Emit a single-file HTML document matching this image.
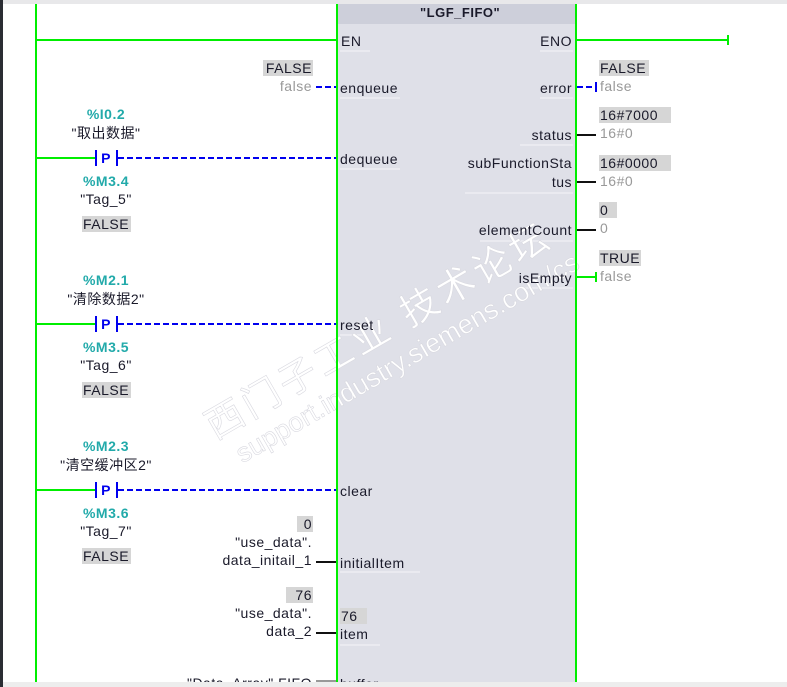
<!DOCTYPE html>
<html><head><meta charset="utf-8"><style>
html,body{margin:0;padding:0;background:#fff;}
svg{display:block;}
text{font-family:"Liberation Sans","Noto Sans CJK SC",sans-serif;font-size:14px;letter-spacing:0.5px;fill:#1a1a2a;}
.t{fill:#22aaaa;font-weight:bold;}
.g{fill:#999;}
.r{text-anchor:end;}
.m{text-anchor:middle;}
</style></head><body>
<svg width="787" height="687" viewBox="0 0 787 687" xmlns="http://www.w3.org/2000/svg">
<rect x="0" y="0" width="787" height="687" fill="#fff"/>
<rect x="0" y="0" width="787" height="4" fill="#e8e8ea"/>
<!-- block -->
<rect x="337" y="4" width="239" height="678" fill="#dfe0e8"/>
<rect x="337" y="4" width="239" height="20" fill="#cdcfda"/>
<text x="420" y="17" style="font-size:13px;font-weight:bold">"LGF_FIFO"</text>
<!-- pin underlines -->
<g stroke="#f4f4f8" stroke-width="1">
<line x1="340" y1="51" x2="370" y2="51"/><line x1="340" y1="98" x2="400" y2="98"/>
<line x1="340" y1="169" x2="400" y2="169"/><line x1="340" y1="335" x2="365" y2="335"/>
<line x1="340" y1="572" x2="420" y2="572"/><line x1="340" y1="645" x2="380" y2="645"/>
<line x1="540" y1="51" x2="573" y2="51"/><line x1="540" y1="98" x2="573" y2="98"/>
<line x1="520" y1="145" x2="573" y2="145"/><line x1="465" y1="193" x2="573" y2="193"/>
<line x1="480" y1="241" x2="573" y2="241"/><line x1="520" y1="288" x2="573" y2="288"/>
</g>
<!-- watermark -->
<g transform="translate(215,440) rotate(-30)">
<text x="0" y="0" style="font-size:38px;fill:#fff;stroke:#d9d9e0;stroke-width:0.6;letter-spacing:4px">西门子工业 技术论坛</text>
<text x="12" y="34" style="font-size:27px;fill:#fff;stroke:#d9d9e0;stroke-width:0.6;letter-spacing:0">support.industry.siemens.com/cs</text>
</g>
<!-- rails -->
<rect x="35" y="4" width="2" height="678" fill="#00ee00"/>
<rect x="336" y="4" width="2" height="678" fill="#00ee00"/>
<rect x="575" y="4" width="2" height="678" fill="#00ee00"/>
<!-- EN / ENO -->
<rect x="36" y="39" width="300" height="2" fill="#00ee00"/>
<rect x="577" y="39" width="151" height="2" fill="#00ee00"/>
<rect x="727" y="35" width="2" height="10" fill="#00ee00"/>
<text x="341" y="46">EN</text>
<text x="572" y="46" class="r">ENO</text>
<!-- enqueue -->
<rect x="263" y="60" width="50" height="16" fill="#d6d6d6"/>
<text x="312" y="73" class="r">FALSE</text>
<text x="312" y="91" class="r g">false</text>
<line x1="316" y1="87" x2="336" y2="87" stroke="#0000ee" stroke-width="2" stroke-dasharray="6,3"/>
<text x="340" y="93">enqueue</text>
<!-- contacts -->
<g>
<text x="106" y="119" class="m t">%I0.2</text>
<text x="106" y="138" class="m">"取出数据"</text>
<rect x="36" y="157" width="60" height="2" fill="#00ee00"/>
<rect x="95" y="150" width="2" height="16" fill="#0000ee"/>
<text x="106" y="163" class="m" style="fill:#0000ee;font-weight:bold">P</text>
<rect x="116" y="150" width="2" height="16" fill="#0000ee"/>
<line x1="118" y1="158" x2="336" y2="158" stroke="#0000ee" stroke-width="2" stroke-dasharray="6,3"/>
<text x="106" y="186" class="m t">%M3.4</text>
<text x="106" y="204" class="m">"Tag_5"</text>
<rect x="82" y="216" width="49" height="16" fill="#d6d6d6"/>
<text x="106" y="229" class="m">FALSE</text>
</g>
<text x="340" y="164">dequeue</text>
<g transform="translate(0,166)">
<text x="106" y="119" class="m t">%M2.1</text>
<text x="106" y="138" class="m">"清除数据2"</text>
<rect x="36" y="157" width="60" height="2" fill="#00ee00"/>
<rect x="95" y="150" width="2" height="16" fill="#0000ee"/>
<text x="106" y="163" class="m" style="fill:#0000ee;font-weight:bold">P</text>
<rect x="116" y="150" width="2" height="16" fill="#0000ee"/>
<line x1="118" y1="158" x2="336" y2="158" stroke="#0000ee" stroke-width="2" stroke-dasharray="6,3"/>
<text x="106" y="186" class="m t">%M3.5</text>
<text x="106" y="204" class="m">"Tag_6"</text>
<rect x="82" y="216" width="49" height="16" fill="#d6d6d6"/>
<text x="106" y="229" class="m">FALSE</text>
</g>
<text x="340" y="330">reset</text>
<g transform="translate(0,332)">
<text x="106" y="119" class="m t">%M2.3</text>
<text x="106" y="138" class="m">"清空缓冲区2"</text>
<rect x="36" y="157" width="60" height="2" fill="#00ee00"/>
<rect x="95" y="150" width="2" height="16" fill="#0000ee"/>
<text x="106" y="163" class="m" style="fill:#0000ee;font-weight:bold">P</text>
<rect x="116" y="150" width="2" height="16" fill="#0000ee"/>
<line x1="118" y1="158" x2="336" y2="158" stroke="#0000ee" stroke-width="2" stroke-dasharray="6,3"/>
<text x="106" y="186" class="m t">%M3.6</text>
<text x="106" y="204" class="m">"Tag_7"</text>
<rect x="82" y="216" width="49" height="16" fill="#d6d6d6"/>
<text x="106" y="229" class="m">FALSE</text>
</g>
<text x="340" y="496">clear</text>
<!-- initialItem -->
<rect x="297" y="516" width="16" height="16" fill="#d6d6d6"/>
<text x="312" y="529" class="r">0</text>
<text x="312" y="547" class="r">"use_data".</text>
<text x="312" y="565" class="r">data_initail_1</text>
<rect x="316" y="561" width="20" height="2" fill="#111"/>
<text x="340" y="568">initialItem</text>
<!-- item -->
<rect x="286" y="587" width="27" height="16" fill="#d6d6d6"/>
<text x="312" y="600" class="r">76</text>
<text x="312" y="618" class="r">"use_data".</text>
<text x="312" y="636" class="r">data_2</text>
<rect x="316" y="632" width="20" height="2" fill="#111"/>
<rect x="340" y="608" width="27" height="16" fill="#d6d6d6"/>
<text x="341" y="621">76</text>
<text x="340" y="639">item</text>
<!-- buffer -->
<text x="312" y="688" class="r">"Data_Array".FIFO</text>
<rect x="316" y="680" width="20" height="2" fill="#999"/>
<text x="340" y="689">buffer</text>
<!-- outputs -->
<text x="572" y="93" class="r">error</text>
<line x1="577" y1="87" x2="596" y2="87" stroke="#0000ee" stroke-width="2" stroke-dasharray="6,3"/>
<rect x="595" y="82" width="2" height="10" fill="#0000ee"/>
<rect x="599" y="60" width="50" height="16" fill="#d6d6d6"/>
<text x="600" y="73">FALSE</text>
<text x="600" y="91" class="g">false</text>

<text x="572" y="140" class="r">status</text>
<rect x="577" y="134" width="19" height="2" fill="#111"/>
<rect x="599" y="107" width="72" height="16" fill="#d6d6d6"/>
<text x="600" y="120">16#7000</text>
<text x="600" y="138" class="g">16#0</text>

<text x="572" y="168" class="r">subFunctionSta</text>
<text x="572" y="187" class="r">tus</text>
<rect x="577" y="181" width="19" height="2" fill="#111"/>
<rect x="599" y="155" width="72" height="16" fill="#d6d6d6"/>
<text x="600" y="168">16#0000</text>
<text x="600" y="186" class="g">16#0</text>

<text x="572" y="235" class="r">elementCount</text>
<rect x="577" y="229" width="19" height="2" fill="#111"/>
<rect x="599" y="202" width="18" height="16" fill="#d6d6d6"/>
<text x="600" y="215">0</text>
<text x="600" y="233" class="g">0</text>

<text x="572" y="283" class="r">isEmpty</text>
<rect x="577" y="276" width="19" height="2" fill="#00ee00"/>
<rect x="595" y="272" width="2" height="10" fill="#00ee00"/>
<rect x="599" y="250" width="42" height="16" fill="#d6d6d6"/>
<text x="600" y="263">TRUE</text>
<text x="600" y="281" class="g">false</text>
<!-- frame overlays -->
<rect x="0" y="682" width="787" height="5" fill="#ededed"/>
<rect x="0" y="0" width="3" height="687" fill="#2a2d33"/>
</svg>
</body></html>
